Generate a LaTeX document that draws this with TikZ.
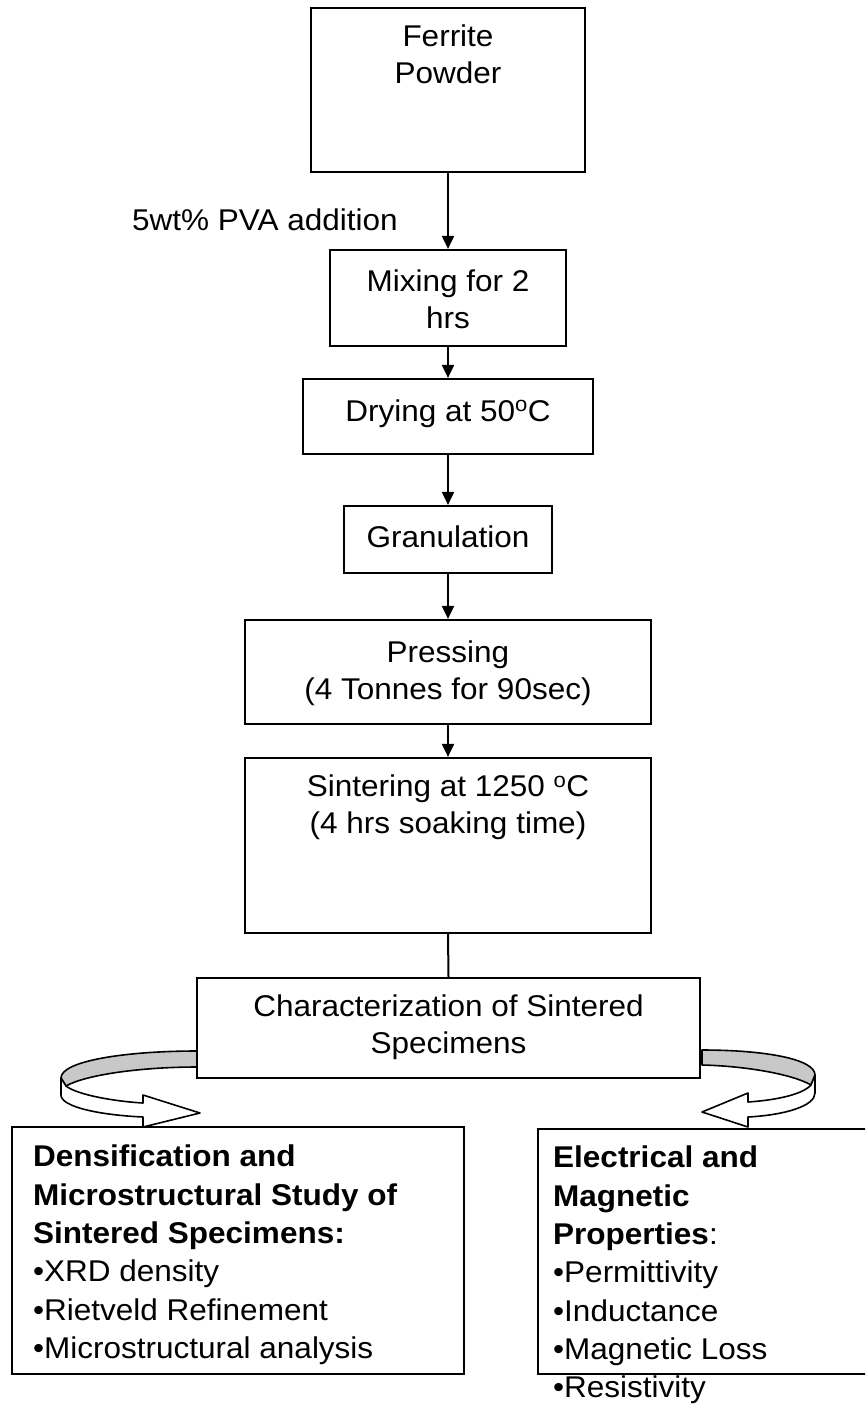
\documentclass[tikz,border=0pt]{standalone}
\usepackage{fontspec}
\setmainfont{Liberation Sans}[FakeStretch=1.05]
\usetikzlibrary{arrows.meta}
\definecolor{bandgrey}{HTML}{C8C8C8}
\begin{document}
\begin{tikzpicture}[x=1pt,y=-1pt,
  pbox/.style={draw=black, line width=2.2pt, fill=white, rectangle, inner sep=0pt},
  txt/.style={inner sep=0pt, align=center, font=\fontsize{30}{36.5}\selectfont},
  flow/.style={line width=2pt, -{Triangle[length=13pt,width=12pt]}},
  band/.style={draw=black, line width=1.6pt, line join=round}]
\clip (0,0) rectangle (865,1408);
\fill[white] (0,0) rectangle (865,1408);

% curved block arrows (drawn first, boxes cover their roots)
% left
\coordinate (LA) at (197,1051); \coordinate (LB) at (61,1078);
\coordinate (LC) at (61,1095);  \coordinate (LD) at (197,1067);
\coordinate (LE) at (66,1086);  \coordinate (LF) at (143,1103);
\coordinate (LG) at (143,1095); \coordinate (LH) at (200,1113);
\coordinate (LI) at (143,1127); \coordinate (LJ) at (143,1117);
\draw[band, fill=bandgrey] (LA) .. controls (125,1051) and (61,1061) .. (LB) -- (LE)
  .. controls (85,1075) and (140,1067) .. (LD) -- cycle;
\draw[band, fill=white] (LB) -- (LC) .. controls (61,1107) and (100,1115) .. (LJ)
  -- (LI) -- (LH) -- (LG) -- (LF) .. controls (110,1101) and (76,1094) .. (LE) -- cycle;
% right
\coordinate (RA) at (702,1050); \coordinate (RB) at (815,1075);
\coordinate (RC) at (815,1093); \coordinate (RD) at (702,1065);
\coordinate (RE) at (811,1085); \coordinate (RF) at (748,1102);
\coordinate (RG) at (748,1093); \coordinate (RH) at (702,1112);
\coordinate (RI) at (748,1127); \coordinate (RJ) at (748,1117);
\draw[band, fill=bandgrey] (RA) .. controls (765,1050) and (815,1059) .. (RB) -- (RE)
  .. controls (792,1074) and (745,1066) .. (RD) -- cycle;
\draw[band, fill=white] (RB) -- (RC) .. controls (815,1106) and (785,1115) .. (RJ)
  -- (RI) -- (RH) -- (RG) -- (RF) .. controls (778,1100) and (803,1094) .. (RE) -- cycle;

% boxes
\node[pbox, minimum width=274pt, minimum height=164pt] (ferrite) at (448,90) {};
\node[pbox, minimum width=236pt, minimum height=96pt] (mixing) at (448,298) {};
\node[pbox, minimum width=290pt, minimum height=75pt] (drying) at (448,416.5) {};
\node[pbox, minimum width=208pt, minimum height=67pt] (gran) at (448,539.5) {};
\node[pbox, minimum width=406pt, minimum height=104pt] (pressing) at (448,672) {};
\node[pbox, minimum width=406pt, minimum height=175pt] (sintering) at (448,845.5) {};
\node[pbox, minimum width=503pt, minimum height=100pt] (charac) at (448.5,1028) {};
\node[pbox, minimum width=452pt, minimum height=247pt] (leftbox) at (238,1250.5) {};
\node[pbox, minimum width=362pt, minimum height=245pt] (rightbox) at (719,1251.5) {};

% texts
\node[txt, anchor=north] (tferrite) at (448,25) {Ferrite\\Powder};
\node[txt, anchor=base west] (pva) at (132,230) {5wt\% PVA addition};
\node[txt, anchor=north] (tmixing) at (448,270) {Mixing for 2\\hrs};
\node[txt, anchor=base] (tdrying) at (448,421) {Drying at 50\textsuperscript{o}C};
\node[txt, anchor=base] (tgran) at (448,547) {Granulation};
\node[txt, anchor=north] (tpressing) at (448,641) {Pressing\\(4 Tonnes for 90sec)};
\node[txt, anchor=north] (tsinter) at (448,775) {Sintering at 1250 \textsuperscript{o}C\\(4 hrs soaking time)};
\node[txt, anchor=north] (tcharac) at (448.5,995) {Characterization of Sintered\\Specimens};
\node[txt, align=left, anchor=north west, font=\fontsize{30}{38.3}\selectfont] (tleft) at (33,1145)
  {\textbf{Densification and}\\\textbf{Microstructural Study of}\\\textbf{Sintered Specimens:}\\•XRD density\\•Rietveld Refinement\\•Microstructural analysis};
\node[txt, align=left, anchor=north west, font=\fontsize{30}{38.3}\selectfont] (tright) at (553,1146)
  {\textbf{Electrical and}\\\textbf{Magnetic}\\\textbf{Properties}:\\•Permittivity\\•Inductance\\•Magnetic Loss\\•Resistivity};

% connectors
\draw[flow] (ferrite.south) -- (mixing.north);
\draw[flow] (mixing.south) -- (drying.north);
\draw[flow] (drying.south) -- (gran.north);
\draw[flow] (gran.south) -- (pressing.north);
\draw[flow] (pressing.south) -- (sintering.north);
\draw[line width=2pt] (sintering.south) -- (charac.north);
\end{tikzpicture}
\end{document}
